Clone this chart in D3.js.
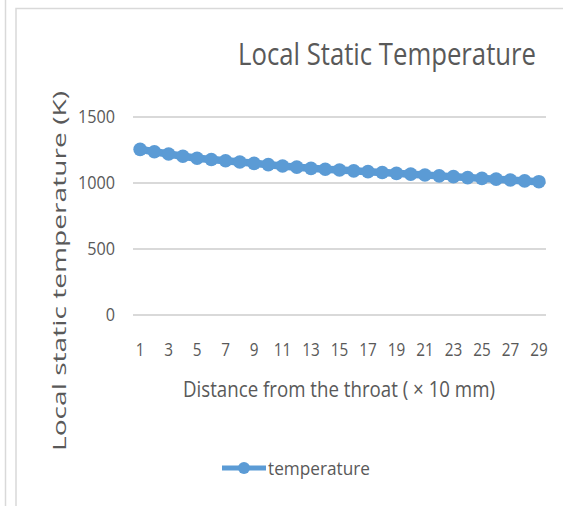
<!DOCTYPE html>
<html>
<head>
<meta charset="utf-8">
<script src="https://cdn.jsdelivr.net/npm/d3@7"></script>
<style>
  html, body { margin: 0; padding: 0; background: #fff; }
  svg text { font-family: "Open Sans", "Noto Sans", sans-serif; fill: #595959; }
</style>
</head>
<body>
<svg id="chart" width="563" height="506"></svg>
<script>
// Distance from the throat (× 10 mm), stations 1..29
const stations = d3.range(1, 30);
// Local static temperature (K) at each station
const temperature = [1255, 1237, 1220, 1203, 1187, 1178, 1169, 1159, 1149, 1139,
                     1129, 1120, 1111, 1104, 1098, 1092, 1086, 1080, 1073, 1067,
                     1061, 1054, 1048, 1041, 1035, 1029, 1023, 1016, 1010];
const yTicks = [0, 500, 1000, 1500];
const xTickLabels = stations.filter(d => d % 2 === 1);
const seriesName = "temperature";

const svg = d3.select("#chart");
const blue = "#5B9BD5";

// narrow the glyphs horizontally (condensed face look)
function condense(sel, k) {
  sel.each(function () {
    const w = this.getComputedTextLength();
    d3.select(this).attr("textLength", w * k).attr("lengthAdjust", "spacingAndGlyphs");
  });
}

// outer frames
svg.append("line").attr("x1", 5.5).attr("x2", 5.5).attr("y1", 0).attr("y2", 506)
  .attr("stroke", "#d9d9d9").attr("stroke-width", 1.5);
svg.append("path").attr("d", "M16,506 V8.5 H563")
  .attr("fill", "none").attr("stroke", "#d9d9d9").attr("stroke-width", 1.5);

const plot = { left: 133, right: 546, top: 117, bottom: 315 };

const x = d3.scaleBand().domain(stations).range([plot.left, plot.right]);
const y = d3.scaleLinear().domain([0, 1500]).range([plot.bottom, plot.top]);

// gridlines
svg.append("g").selectAll("line").data(yTicks).join("line")
  .attr("x1", plot.left).attr("x2", plot.right)
  .attr("y1", d => y(d)).attr("y2", d => y(d))
  .attr("stroke", "#d9d9d9").attr("stroke-width", 2);

// y tick labels
const yAxis = d3.axisLeft(y).tickValues(yTicks).tickFormat(d3.format("d"))
  .tickSize(0).tickPadding(18);
const gy = svg.append("g").attr("transform", `translate(${plot.left},0)`).call(yAxis);
gy.select(".domain").remove();
gy.selectAll("text").attr("font-size", 18).attr("fill", "#595959")
  .style("font-family", '"Open Sans", sans-serif').call(condense, 0.9);

// x tick labels
const xAxis = d3.axisBottom(x).tickValues(xTickLabels).tickSize(0).tickPadding(28);
const gx = svg.append("g").attr("transform", `translate(0,${plot.bottom})`).call(xAxis);
gx.select(".domain").remove();
gx.selectAll("text").attr("font-size", 18).attr("fill", "#595959")
  .style("font-family", '"Open Sans", sans-serif').call(condense, 0.85);

// series line and markers
const cx = d => x(d) + x.bandwidth() / 2;
const line = d3.line().x((d, i) => cx(stations[i])).y(d => y(d));
svg.append("path").datum(temperature).attr("d", line)
  .attr("fill", "none").attr("stroke", blue).attr("stroke-width", 7.5);
svg.append("g").selectAll("circle").data(temperature).join("circle")
  .attr("cx", (d, i) => cx(stations[i])).attr("cy", d => y(d))
  .attr("r", 6.8).attr("fill", blue);

// title (tall, narrow lettering)
svg.append("text").attr("transform", "translate(387,65) scale(1,1.3)")
  .attr("text-anchor", "middle").attr("font-size", 24)
  .attr("textLength", 298).attr("lengthAdjust", "spacingAndGlyphs")
  .text("Local Static Temperature");

// axis titles
svg.append("text").attr("x", 339).attr("y", 397).attr("text-anchor", "middle")
  .attr("font-size", 21).attr("textLength", 312).attr("lengthAdjust", "spacingAndGlyphs")
  .text("Distance from the throat ( × 10 mm)");
svg.append("text").attr("transform", "translate(66,271) rotate(-90)")
  .attr("text-anchor", "middle").attr("font-size", 18)
  .attr("textLength", 360).attr("lengthAdjust", "spacingAndGlyphs")
  .text("Local static temperature (K)");

// legend
const lg = svg.append("g");
lg.append("line").attr("x1", 222).attr("x2", 266).attr("y1", 468).attr("y2", 468)
  .attr("stroke", blue).attr("stroke-width", 5);
lg.append("circle").attr("cx", 244).attr("cy", 468).attr("r", 6).attr("fill", blue);
lg.append("text").attr("x", 268).attr("y", 475).attr("font-size", 19)
  .attr("textLength", 102).attr("lengthAdjust", "spacingAndGlyphs")
  .text(seriesName);
</script>
</body>
</html>
